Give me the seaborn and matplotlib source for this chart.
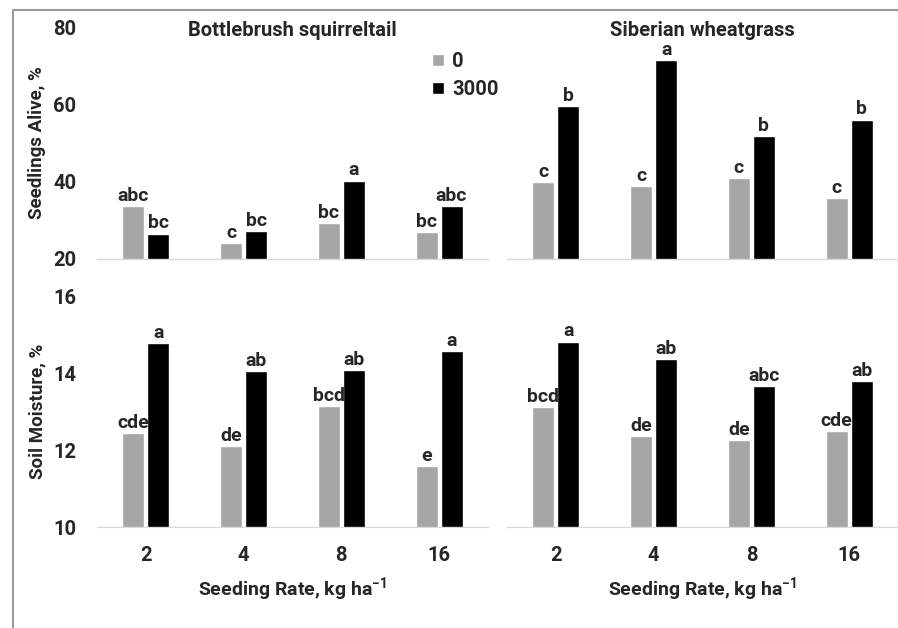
import matplotlib
matplotlib.use("Agg")
import matplotlib.pyplot as plt
import seaborn as sns
import pandas as pd
from matplotlib.lines import Line2D

# --- datos ---
tasas = ["2", "4", "8", "16"]
tratamientos = ["0", "3000"]
especies = ["Bottlebrush squirreltail", "Siberian wheatgrass"]

# Plántulas vivas (%)
vivas_ardilla_0 = [33.7, 24.1, 29.3, 27.0]
vivas_ardilla_3000 = [26.5, 27.2, 40.2, 33.6]
vivas_siberia_0 = [39.9, 38.9, 40.9, 35.8]
vivas_siberia_3000 = [59.5, 71.4, 51.8, 56.0]

letras_vivas_ardilla_0 = ["abc", "c", "bc", "bc"]
letras_vivas_ardilla_3000 = ["bc", "bc", "a", "abc"]
letras_vivas_siberia_0 = ["c", "c", "c", "c"]
letras_vivas_siberia_3000 = ["b", "a", "b", "b"]

# Humedad del suelo (%)
humedad_ardilla_0 = [12.44, 12.10, 13.14, 11.58]
humedad_ardilla_3000 = [14.78, 14.05, 14.08, 14.57]
humedad_siberia_0 = [13.12, 12.36, 12.26, 12.49]
humedad_siberia_3000 = [14.81, 14.36, 13.66, 13.79]

letras_humedad_ardilla_0 = ["cde", "de", "bcd", "e"]
letras_humedad_ardilla_3000 = ["a", "ab", "ab", "a"]
letras_humedad_siberia_0 = ["bcd", "de", "de", "cde"]
letras_humedad_siberia_3000 = ["a", "ab", "abc", "ab"]

paneles = [
    # (fila, col, valores 0, valores 3000, letras 0, letras 3000)
    (0, 0, vivas_ardilla_0, vivas_ardilla_3000, letras_vivas_ardilla_0, letras_vivas_ardilla_3000),
    (0, 1, vivas_siberia_0, vivas_siberia_3000, letras_vivas_siberia_0, letras_vivas_siberia_3000),
    (1, 0, humedad_ardilla_0, humedad_ardilla_3000, letras_humedad_ardilla_0, letras_humedad_ardilla_3000),
    (1, 1, humedad_siberia_0, humedad_siberia_3000, letras_humedad_siberia_0, letras_humedad_siberia_3000),
]

sns.set_style("white")
plt.rcParams["font.family"] = ["Roboto", "DejaVu Sans"]
plt.rcParams["font.weight"] = "bold"
plt.rcParams["mathtext.fontset"] = "custom"
plt.rcParams["mathtext.rm"] = "Roboto:bold"
plt.rcParams["mathtext.default"] = "rm"

fig = plt.figure(figsize=(8.98, 6.28), dpi=100)
posiciones = {
    (0, 0): [0.108, 0.5876, 0.4354, 0.3694],
    (0, 1): [0.5646, 0.5876, 0.4354, 0.3694],
    (1, 0): [0.108, 0.1608, 0.4354, 0.3678],
    (1, 1): [0.5646, 0.1608, 0.4354, 0.3678],
}
colores = {"0": "#a6a6a6", "3000": "#000000"}

for fila, col, v0, v3000, l0, l3000 in paneles:
    ax = fig.add_axes(posiciones[(fila, col)])
    df = pd.DataFrame({
        "Tasa": tasas * 2,
        "Tratamiento": ["0"] * 4 + ["3000"] * 4,
        "Valor": v0 + v3000,
    })
    sns.barplot(data=df, x="Tasa", y="Valor", hue="Tratamiento", order=tasas,
                hue_order=tratamientos, palette=colores, width=0.51, gap=0.12,
                saturation=1, ax=ax, legend=(fila == 0 and col == 0))
    for cont, letras in zip(ax.containers, [l0, l3000]):
        ax.bar_label(cont, labels=letras, padding=1, fontsize=14, fontweight="bold")

    ax.set_xlim(-0.5, 3.5)
    if fila == 0:
        ax.set_ylim(20, 80)
        ax.set_yticks([20, 40, 60, 80])
        ax.set_xticklabels([])
        ax.text(0.5, 0.985, especies[col], transform=ax.transAxes, ha="center",
                va="center", fontsize=14.5, fontweight="bold")
    else:
        ax.set_ylim(10, 16)
        ax.set_yticks([10, 12, 14, 16])
        ax.set_xlabel("Seeding Rate, kg ha$^{-1}$", fontsize=14, fontweight="bold", labelpad=7)
        ax.tick_params(axis="x", labelsize=14.5, pad=14)

    if col == 0:
        ax.set_ylabel("Seedlings Alive, %" if fila == 0 else "Soil Moisture, %",
                      fontsize=13.5, fontweight="bold", labelpad=5)
        ax.tick_params(axis="y", labelsize=14.5, pad=15)
    else:
        ax.set_ylabel("")
        ax.set_yticklabels([])

    if fila == 0:
        ax.set_xlabel("")
    ax.tick_params(length=0)
    for lado in ["left", "right", "top"]:
        ax.spines[lado].set_visible(False)
    ax.spines["bottom"].set_color("#d9d9d9")
    ax.spines["bottom"].set_linewidth(1.0)
    ax.set_facecolor("none")

    if fila == 0 and col == 0:
        leg = ax.legend(loc="upper left", bbox_to_anchor=(0.81, 0.97), frameon=False,
                        fontsize=14.5, handlelength=0.6, handleheight=0.6,
                        handletextpad=0.4, labelspacing=0.45)

# borde gris de la figura (arriba e izquierda)
fig.add_artist(Line2D([13 / 898, 13 / 898], [0, 1 - 10 / 628], color="#9a9a9a", lw=1.5))
fig.add_artist(Line2D([13 / 898, 1], [1 - 10 / 628, 1 - 10 / 628], color="#9a9a9a", lw=1.5))

fig.savefig("out.png", dpi=100)
